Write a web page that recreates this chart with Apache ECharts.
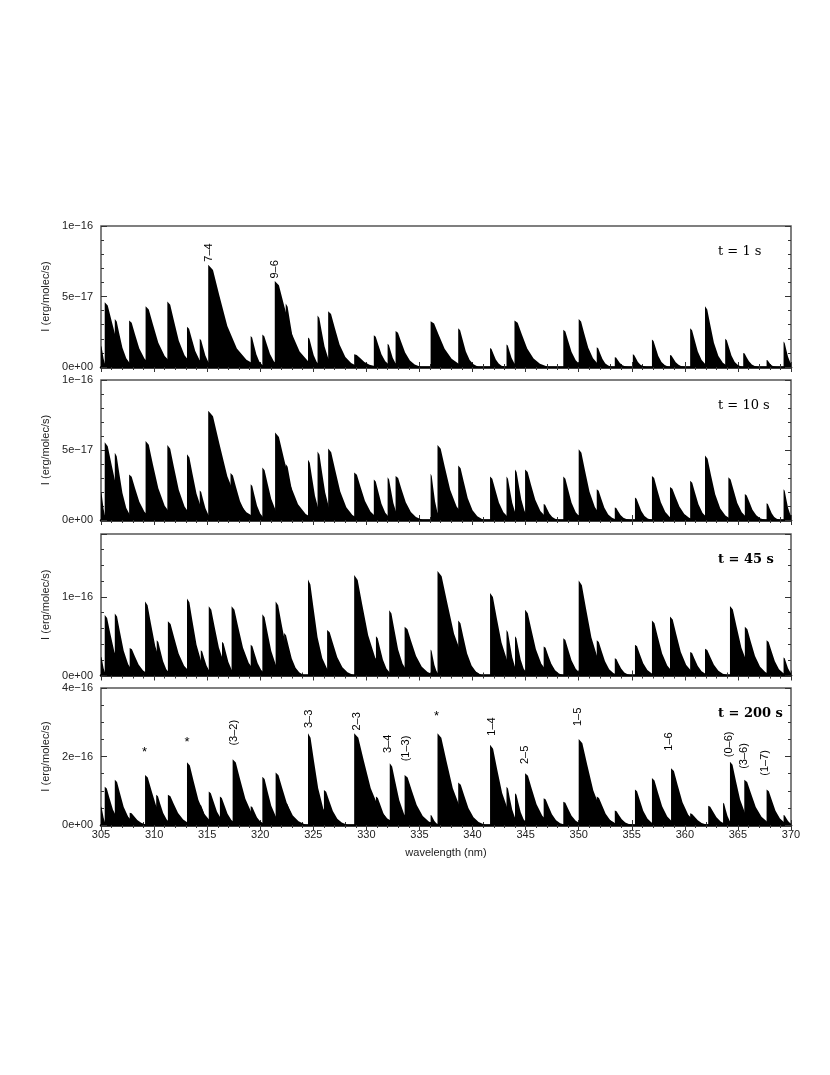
<!DOCTYPE html>
<html>
<head>
<meta charset="utf-8">
<script src="https://cdn.jsdelivr.net/npm/echarts@6/dist/echarts.min.js"></script>
<style>
html, body { margin: 0; padding: 0; background: #fff; }
#chart { width: 830px; height: 1075px; }
</style>
</head>
<body>
<div id="chart"></div>
<script>
// intensities are in units of 1e-17 erg/molec/s
// a band is [head wavelength (nm), peak intensity, length of its red tail (nm)]
var bands1s = [
  [305.0, 1.5, 0.4], [305.35, 4.6, 1.9], [306.3, 3.4, 1.2], [307.65, 3.3, 1.6],
  [309.2, 4.3, 2.0], [311.25, 4.65, 1.8], [313.1, 2.85, 1.3], [314.3, 2.0, 0.9],
  [315.1, 7.25, 3.0], [315.85, 4.7, 1.5], [317.2, 1.6, 1.2], [319.1, 2.2, 0.9],
  [320.2, 2.3, 1.2], [321.37, 6.1, 2.6], [322.4, 4.5, 1.2], [324.5, 2.1, 0.9],
  [325.4, 3.65, 1.1], [326.4, 3.95, 1.8], [328.85, 0.9, 1.6], [330.7, 2.25, 1.2],
  [332.0, 1.65, 0.8], [332.75, 2.55, 1.5], [336.05, 3.25, 2.2], [338.65, 2.75, 1.2],
  [341.65, 1.35, 0.9], [343.2, 1.6, 0.8], [343.95, 3.3, 2.0], [344.6, 1.9, 1.0],
  [348.55, 2.65, 1.3], [350.0, 3.4, 1.5], [351.7, 1.4, 0.9], [353.4, 0.7, 0.8],
  [355.1, 0.9, 0.8], [356.9, 1.95, 1.0], [358.6, 0.85, 0.9], [360.5, 2.75, 1.2],
  [361.9, 4.3, 1.4], [363.8, 2.0, 1.0], [365.5, 1.0, 0.9], [367.7, 0.5, 0.6],
  [369.3, 1.8, 0.7]
];
var bands10s = [
  [305.0, 2.0, 0.4], [305.35, 5.55, 1.9], [306.3, 4.8, 1.2], [307.65, 3.25, 1.6],
  [309.2, 5.65, 2.0], [311.25, 5.35, 1.8], [313.1, 4.7, 1.5], [314.3, 2.1, 0.9],
  [315.1, 7.8, 3.0], [315.85, 5.0, 1.5], [317.2, 3.35, 1.5], [319.1, 2.55, 1.0],
  [320.2, 3.75, 1.4], [321.4, 6.25, 2.4], [322.4, 4.0, 1.2], [324.5, 4.3, 1.1],
  [325.4, 4.9, 1.2], [326.4, 5.1, 1.9], [328.85, 3.4, 1.7], [330.7, 2.9, 1.2],
  [332.0, 3.05, 0.9], [332.75, 3.15, 1.6], [336.05, 3.3, 0.7], [336.7, 5.35, 2.0],
  [338.65, 3.9, 1.5], [341.65, 3.1, 1.4], [343.2, 3.1, 0.9], [344.0, 3.6, 1.0],
  [344.95, 3.6, 1.6], [346.7, 1.15, 0.9], [348.55, 3.1, 1.3], [350.0, 5.05, 1.7],
  [351.7, 2.2, 1.2], [353.4, 0.9, 0.9], [355.3, 1.6, 1.0], [356.9, 3.15, 1.4],
  [358.6, 2.35, 1.5], [360.5, 2.8, 1.3], [361.9, 4.6, 1.6], [364.1, 3.05, 1.4],
  [365.65, 1.85, 1.2], [367.7, 1.2, 0.8], [369.3, 2.2, 0.7]
];
var bands45s = [
  [305.0, 2.4, 0.4], [305.35, 7.7, 1.5], [306.3, 7.9, 1.4], [307.7, 3.5, 1.4],
  [309.15, 9.4, 1.6], [310.25, 4.5, 1.0], [311.3, 6.9, 1.7], [313.1, 9.8, 1.5],
  [314.4, 3.2, 0.9], [315.15, 8.8, 1.6], [316.4, 4.3, 1.0], [317.3, 8.8, 1.8],
  [319.1, 3.9, 1.1], [320.2, 7.8, 1.4], [321.45, 9.4, 1.6], [322.25, 5.4, 1.2],
  [324.5, 12.2, 1.5], [326.3, 5.8, 1.6], [328.85, 12.8, 2.2], [330.9, 5.0, 1.1],
  [332.15, 8.3, 1.4], [333.6, 6.2, 1.8], [336.05, 3.3, 0.6], [336.7, 13.3, 2.6],
  [338.65, 7.0, 1.4], [341.65, 10.5, 1.8], [343.2, 5.8, 0.9], [344.0, 5.0, 0.9],
  [344.95, 8.35, 1.7], [346.7, 3.7, 1.2], [348.55, 4.75, 1.3], [350.0, 12.1, 2.0],
  [351.7, 4.5, 1.3], [353.4, 2.2, 1.0], [355.3, 3.9, 1.3], [356.9, 7.0, 1.6],
  [358.6, 7.5, 1.7], [360.5, 3.0, 1.2], [361.9, 3.4, 1.4], [364.25, 8.85, 1.8],
  [365.65, 6.2, 1.6], [367.7, 4.5, 1.3], [369.3, 2.3, 0.7]
];
var bands200s = [
  [305.0, 5.4, 0.4], [305.35, 11.2, 1.3], [306.3, 13.2, 1.4], [307.7, 3.6, 1.2],
  [309.15, 14.6, 1.7], [310.2, 8.8, 1.1], [311.3, 8.8, 1.6], [313.1, 18.3, 1.8],
  [314.3, 6.0, 0.9], [315.15, 9.75, 1.3], [316.2, 8.3, 1.2], [317.4, 19.2, 2.0],
  [319.1, 5.5, 1.0], [320.2, 14.1, 1.4], [321.45, 15.3, 1.8], [322.4, 6.5, 1.0],
  [324.5, 26.8, 1.6], [326.0, 10.2, 1.4], [328.85, 26.8, 2.6], [330.9, 8.3, 1.2],
  [332.2, 18.0, 1.5], [333.6, 14.6, 1.9], [336.05, 2.9, 0.6], [336.7, 26.8, 2.4],
  [338.65, 12.4, 1.6], [341.65, 23.4, 1.9], [343.2, 11.2, 0.9], [344.0, 9.3, 0.9],
  [344.95, 15.1, 1.8], [346.7, 7.8, 1.3], [348.55, 6.8, 1.3], [350.0, 25.1, 2.3],
  [351.7, 8.3, 1.4], [353.4, 4.2, 1.1], [355.3, 10.4, 1.3], [356.9, 13.7, 1.6],
  [358.7, 16.6, 1.8], [360.5, 3.4, 1.2], [362.2, 5.6, 1.3], [363.6, 6.5, 0.7],
  [364.25, 18.5, 1.6], [365.6, 13.2, 1.8], [367.7, 10.4, 1.4], [369.3, 2.9, 0.7]
];

// band identifications: [wavelength, intensity at the foot of the label, text]
var labels1s = [[315.2, 7.4, '7–4'], [321.35, 6.2, '9–6']];
var labels200s = [
  [317.5, 22.9, '(3–2)'], [324.55, 28.0, '3–3'], [329.15, 27.3, '2–3'],
  [332.0, 20.7, '3–4'], [333.7, 18.3, '(1–3)'], [341.8, 25.8, '1–4'],
  [344.95, 17.5, '2–5'], [349.95, 28.6, '1–5'], [358.5, 21.4, '1–6'],
  [364.15, 19.5, '(0–6)'], [365.57, 16.1, '(3–6)'], [367.55, 14.1, '(1–7)']
];
var stars200s = [[309.1, 22.2], [313.1, 25.1], [336.6, 32.5]];

var panelTimes = ['t = 1 s', 't = 10 s', 't = 45 s', 't = 200 s'];
var yMaxes = [10, 10, 18, 40];
var yMajor = [5, 5, 10, 20];
var yMinor = [1, 1, 2, 5];
var yTickLabels = [
  { 0: '0e+00', 5: '5e−17', 10: '1e−16' },
  { 0: '0e+00', 5: '5e−17', 10: '1e−16' },
  { 0: '0e+00', 10: '1e−16' },
  { 0: '0e+00', 20: '2e−16', 40: '4e−16' }
];
var xMin = 305, xMax = 370;

var panelBands = [bands1s, bands10s, bands45s, bands200s];
var panelLabels = [labels1s, [], [], labels200s];
var panelStars = [[], [], [], stars200s];

// layout
var tops = [226, 380, 534, 688];
var heights = [141, 140, 141.5, 137];
var LEFT = 101, WIDTH = 690;
var TICK = '#333', FRAME = '#555', TXT = '#222';
var SANS = 'Liberation Sans, Arial, sans-serif';
// shape of a red-degraded band, as fractions of tail length and of peak
var PROFILE = [[0, 0], [0, 1], [0.15, 0.95], [0.35, 0.7], [0.6, 0.4], [0.9, 0.18], [1.2, 0.07], [1.6, 0]];

function renderBand(params, api) {
  var h = api.value(0), p = api.value(1), t = api.value(2);
  var pts = PROFILE.map(function (q) { return api.coord([h + q[0] * t, p * q[1]]); });
  return { type: 'polygon', shape: { points: pts }, style: { fill: '#000' } };
}
function labelRenderer(list) {
  return function (params, api) {
    var d = list[params.dataIndex];
    var pt = api.coord([d[0], d[1]]);
    return {
      type: 'text', x: pt[0], y: pt[1] - 1, rotation: Math.PI / 2,
      style: { text: d[2], align: 'left', verticalAlign: 'middle',
        fill: '#000', font: '11px ' + SANS }
    };
  };
}
function renderStar(params, api) {
  var pt = api.coord([api.value(0), api.value(1)]);
  return {
    type: 'text', x: pt[0], y: pt[1] + 3,
    style: { text: '*', align: 'center', verticalAlign: 'middle',
      fill: '#000', font: '13px ' + SANS }
  };
}

var grids = [], xAxes = [], yAxes = [], series = [], graphics = [];
for (var i = 0; i < 4; i++) {
  grids.push({ left: LEFT, width: WIDTH, top: tops[i], height: heights[i],
    show: true, borderColor: FRAME, borderWidth: 1.5, backgroundColor: 'transparent' });
  var last = i === 3;
  ['bottom', 'top'].forEach(function (pos) {
    xAxes.push({
      type: 'value', gridIndex: i, position: pos, min: xMin, max: xMax, interval: 5,
      axisLine: { show: pos === 'bottom', lineStyle: { color: '#000', width: 2.5 } },
      axisTick: { show: true, inside: true, length: 5, lineStyle: { color: TICK } },
      minorTick: { show: true, splitNumber: 5, length: 3, lineStyle: { color: TICK } },
      splitLine: { show: false },
      axisLabel: { show: last && pos === 'bottom', margin: 4, color: TXT, fontSize: 11, fontFamily: SANS },
      name: last && pos === 'bottom' ? 'wavelength (nm)' : '',
      nameLocation: 'middle', nameGap: 22,
      nameTextStyle: { color: TXT, fontSize: 11, fontFamily: SANS }
    });
  });
  (function (k) {
    ['left', 'right'].forEach(function (pos) {
      [[yMajor[k], 6], [yMinor[k], 3]].forEach(function (step, m) {
        var labelled = pos === 'left' && m === 0;
        yAxes.push({
          type: 'value', gridIndex: k, position: pos, min: 0, max: yMaxes[k], interval: step[0],
          axisLine: { show: false },
          axisTick: { show: true, inside: true, length: step[1], lineStyle: { color: TICK } },
          splitLine: { show: false },
          axisLabel: { show: labelled, margin: 8, color: TXT, fontSize: 11, fontFamily: SANS,
            formatter: function (v) { return yTickLabels[k][v] || ''; } },
          name: labelled ? 'I (erg/molec/s)' : '',
          nameLocation: 'middle', nameGap: 30, nameRotate: 90,
          nameTextStyle: { color: TXT, fontSize: 11, fontFamily: SANS }
        });
      });
    });
  })(i);
  series.push({ type: 'custom', xAxisIndex: 2 * i, yAxisIndex: 4 * i, clip: true,
    renderItem: renderBand, data: panelBands[i], silent: true });
  if (panelLabels[i].length) {
    series.push({ type: 'custom', xAxisIndex: 2 * i, yAxisIndex: 4 * i,
      renderItem: labelRenderer(panelLabels[i]), data: panelLabels[i].map(function (d) { return [d[0], d[1]]; }),
      silent: true });
  }
  if (panelStars[i].length) {
    series.push({ type: 'custom', xAxisIndex: 2 * i, yAxisIndex: 4 * i,
      renderItem: renderStar, data: panelStars[i], silent: true });
  }
  graphics.push({ type: 'text', left: 718, top: tops[i] + 19,
    style: { text: panelTimes[i], fill: '#000', font: (i >= 2 ? '600 ' : '') + '13px DejaVu Serif, serif' } });
}

var chart = echarts.init(document.getElementById('chart'));
chart.setOption({
  animation: false,
  backgroundColor: '#fff',
  grid: grids,
  xAxis: xAxes,
  yAxis: yAxes,
  series: series,
  graphic: graphics
});
</script>
</body>
</html>
